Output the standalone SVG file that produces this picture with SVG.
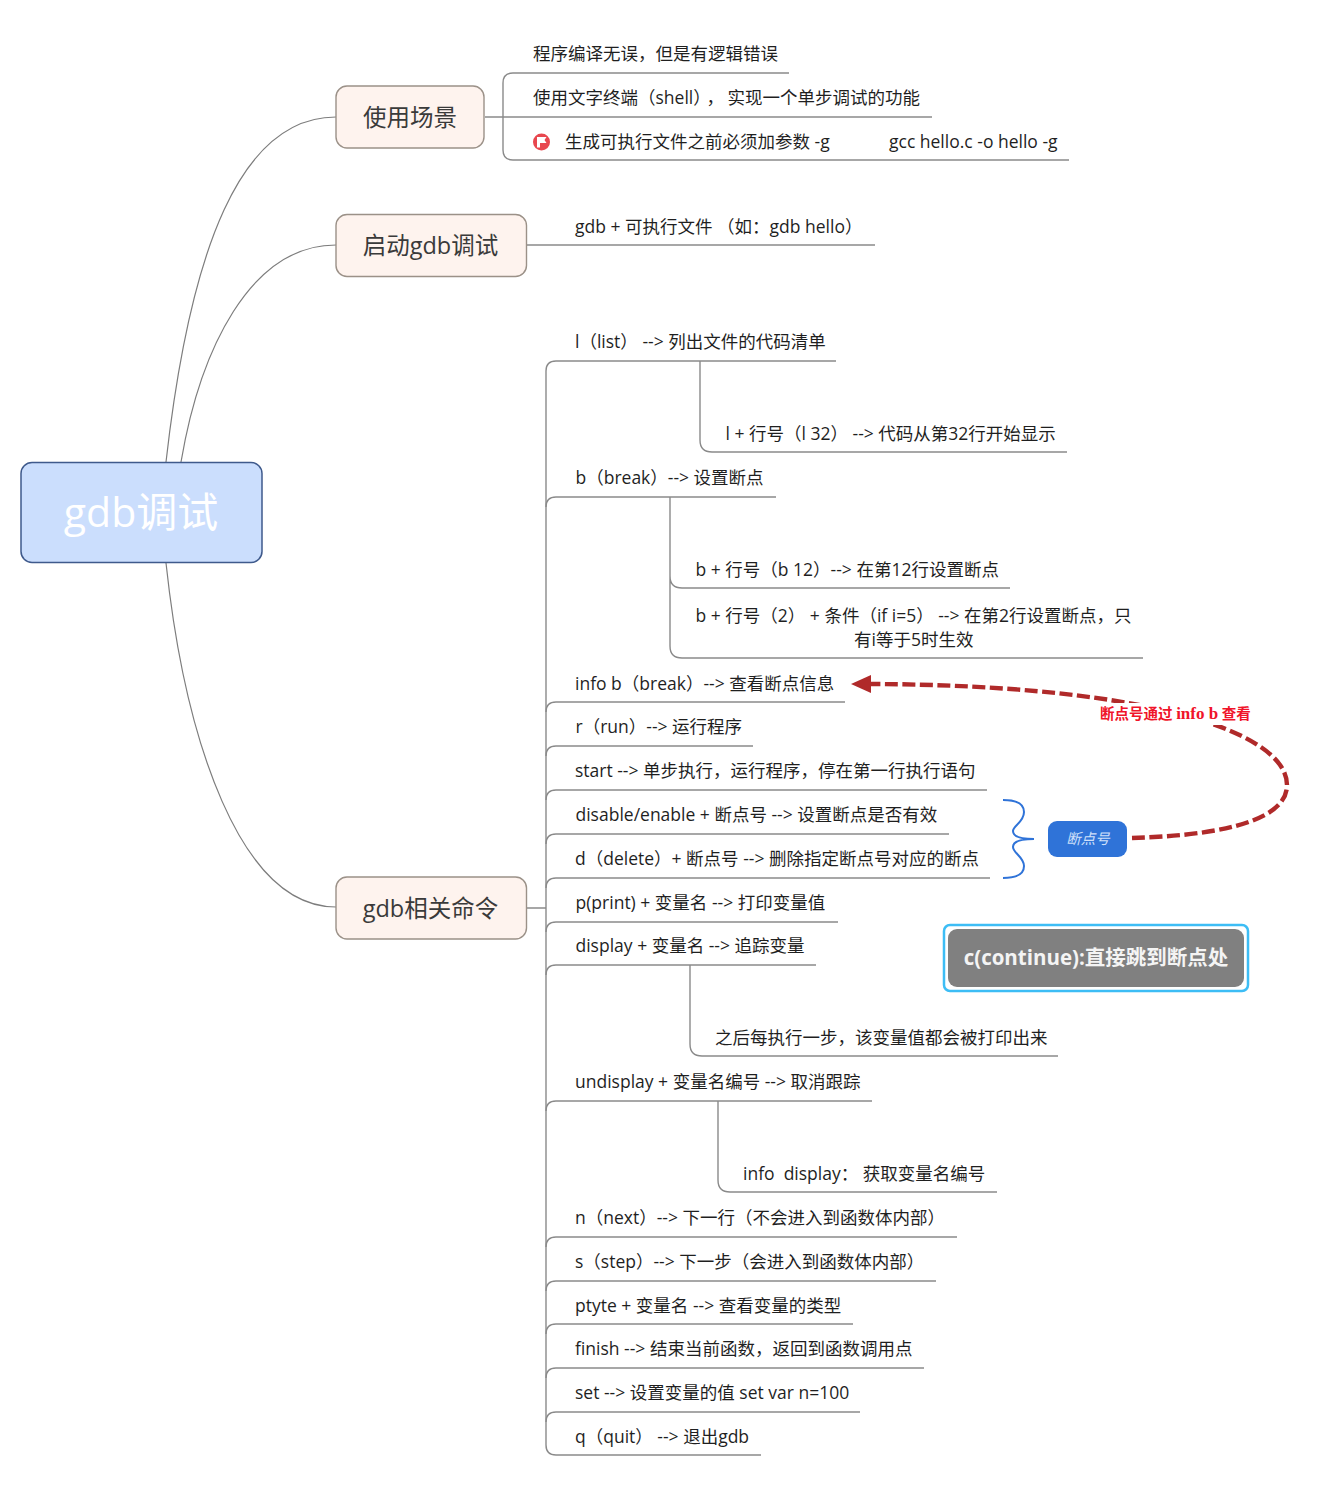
<svg xmlns="http://www.w3.org/2000/svg" width="1342" height="1488" viewBox="0 0 1342 1488">
<style>
text{font-family:"Open Sans","Noto Sans CJK SC",sans-serif;fill:#1f1f1f;font-size:17.5px}
.l{fill:none;stroke:#8a8a8a;stroke-width:1.4}
.c{fill:none;stroke:#7d7d7d;stroke-width:1.2}
.t{fill:#fef3ee;stroke:#9b9188;stroke-width:1.4}
.tt{font-size:23.5px;fill:#3a3a3a;text-anchor:middle}
</style>
<defs>
<marker id="arr" markerUnits="userSpaceOnUse" markerWidth="22" markerHeight="20" refX="1" refY="9" orient="auto"><path d="M0 0L20 9L0 18Z" fill="#b02a2a"/></marker>
</defs>
<rect width="1342" height="1488" fill="#fff"/>
<g id="connectors">
<path class="c" d="M166 462C190 250 240 117 336 117"/>
<path class="c" d="M181 462C200 350 250 245 336 245"/>
<path class="c" d="M166 563C185 740 240 907 336 907"/>
<path class="l" d="M485 117H503M527 245H565M527 908H546"/>
<path class="l" d="M789 73H513Q503 73 503 83V150Q503 160 513 160H1069M503 117H932"/>
<path class="l" d="M565 245H875"/>
<path class="l" d="M546 371V1445Q546 1455 556 1455H761M546 371Q546 361 556 361H836"/>
<path class="l" d="M546 507Q546 497 556 497H776M546 712Q546 702 556 702H845M546 756Q546 746 556 746H753M546 800Q546 790 556 790H987M546 844Q546 834 556 834H949M546 888Q546 878 556 878H990M546 932Q546 922 556 922H838M546 975Q546 965 556 965H816M546 1111Q546 1101 556 1101H872M546 1247Q546 1237 556 1237H957M546 1291Q546 1281 556 1281H936M546 1334Q546 1324 556 1324H853M546 1378Q546 1368 556 1368H924M546 1422Q546 1412 556 1412H860"/>
<path class="l" d="M700 361V440Q700 452 712 452H1067"/>
<path class="l" d="M670 497V576Q670 588 682 588H1010M670 576V646Q670 658 682 658H1143"/>
<path class="l" d="M690 965V1044Q690 1056 702 1056H1058"/>
<path class="l" d="M718 1101V1180Q718 1192 730 1192H997"/>
<path d="M1003 800C1018 800 1024 804 1024 812C1024 822 1013 826 1013 831C1013 836 1018 839 1034 839C1018 839 1013 842 1013 847C1013 853 1024 857 1024 866C1024 874 1018 878 1003 878" fill="none" stroke="#2f73d8" stroke-width="2"/>
<path d="M1132 838C1200 836 1287 826 1287 785C1287 735 1160 685 870 684" fill="none" stroke="#b02a2a" stroke-width="4.400" stroke-dasharray="13 4.500" marker-end="url(#arr)"/>
</g>
<g id="root"><rect x="21" y="462.500" width="241" height="100" rx="11" fill="#cbdefd" stroke="#3f5a8c" stroke-width="1.5"/><text x="141" y="527" style="font-size:41px;fill:#fff;text-anchor:middle">gdb调试</text></g>
<g id="topic-use"><rect class="t" x="336" y="86" width="148" height="62" rx="11"/><text class="tt" x="410" y="125.500">使用场景</text></g>
<g id="topic-start"><rect class="t" x="336" y="214.500" width="190.500" height="62" rx="11"/><text class="tt" x="430.500" y="253.500">启动gdb调试</text></g>
<g id="topic-cmd"><rect class="t" x="336" y="877" width="190.500" height="62" rx="11"/><text class="tt" x="430.500" y="916.500">gdb相关命令</text></g>
<g id="u1"><text x="533" y="60">程序编译无误，但是有逻辑错误</text></g>
<g id="u2"><text x="533" y="104">使用文字终端（shell）<tspan dx="4.500">，</tspan><tspan dx="3.500">实现一个单步调试的功能</tspan></text></g>
<g id="u3"><circle cx="541.500" cy="142" r="8.500" fill="#e8474f"/><path d="M537 137H546.500L544.500 140L546.500 143H540V147.500H537Z" fill="#fff"/><text x="565" y="148">生成可执行文件之前必须加参数 -g</text></g>
<g id="u4"><text x="889" y="148">gcc hello.c -o hello -g</text></g>
<g id="s1"><text x="575" y="233">gdb + 可执行文件 （如：gdb hello）</text></g>
<g id="c1"><text x="575" y="348">l（list） --&gt; 列出文件的代码清单</text></g>
<g id="c1a"><text x="725.500" y="440">l + 行号（l 32） --&gt; 代码从第32行开始显示</text></g>
<g id="c2"><text x="575.500" y="484">b（break）--&gt; 设置断点</text></g>
<g id="c2a"><text x="695.500" y="576">b + 行号（b 12）--&gt; 在第12行设置断点</text></g>
<g id="c2b"><text x="695.500" y="622">b + 行号（2） + 条件（if i=5） --&gt; 在第2行设置断点，只</text><text x="854" y="646">有i等于5时生效</text></g>
<g id="c3"><text x="575" y="690">info b（break）--&gt; 查看断点信息</text></g>
<g id="c4"><text x="575.500" y="733">r（run）--&gt; 运行程序</text></g>
<g id="c5"><text x="575" y="777">start --&gt; 单步执行，运行程序，停在第一行执行语句</text></g>
<g id="c6"><text x="575.500" y="821">disable/enable + 断点号 --&gt; 设置断点是否有效</text></g>
<g id="c7"><text x="575" y="865">d（delete）+ 断点号 --&gt; 删除指定断点号对应的断点</text></g>
<g id="c8"><text x="575.500" y="909">p(print) + 变量名 --&gt; 打印变量值</text></g>
<g id="c9"><text x="575.500" y="952">display + 变量名 --&gt; 追踪变量</text></g>
<g id="c9a"><text x="715" y="1044">之后每执行一步，该变量值都会被打印出来</text></g>
<g id="c10"><text x="575" y="1088">undisplay + 变量名编号 --&gt; 取消跟踪</text></g>
<g id="c10a"><text x="743" y="1180">info&#160; display： 获取变量名编号</text></g>
<g id="c11"><text x="575" y="1224">n（next）--&gt; 下一行（不会进入到函数体内部）</text></g>
<g id="c12"><text x="575" y="1268">s（step）--&gt; 下一步（会进入到函数体内部）</text></g>
<g id="c13"><text x="575" y="1312">ptyte + 变量名 --&gt; 查看变量的类型</text></g>
<g id="c14"><text x="575" y="1355">finish --&gt; 结束当前函数，返回到函数调用点</text></g>
<g id="c15"><text x="575" y="1399">set --&gt; 设置变量的值 set var n=100</text></g>
<g id="c16"><text x="575" y="1443">q（quit） --&gt; 退出gdb</text></g>
<g id="label-note"><rect x="1098" y="703" width="157" height="22" fill="#fff"/><text x="1100" y="719" style="font-family:'Liberation Serif','Noto Sans CJK SC',serif;font-weight:bold;font-size:14.500px;fill:#f0142a">断点号通过 <tspan style="font-size:17px">info b</tspan> 查看</text></g>
<g id="summary"><rect x="1048" y="821" width="79" height="36" rx="9" fill="#2f73d8"/><text x="1088" y="844" style="font-size:14.500px;font-style:italic;fill:#cfe0fa;text-anchor:middle">断点号</text></g>
<g id="callout"><rect x="944" y="925" width="304" height="66" rx="6" fill="#fff" stroke="#3dbdf5" stroke-width="2.500"/><rect x="948" y="929" width="296" height="58" rx="9" fill="#808080"/><text x="1096" y="965" style="font-size:20.500px;font-weight:bold;fill:#f4f4f4;text-anchor:middle">c(continue):直接跳到断点处</text></g>
</svg>
